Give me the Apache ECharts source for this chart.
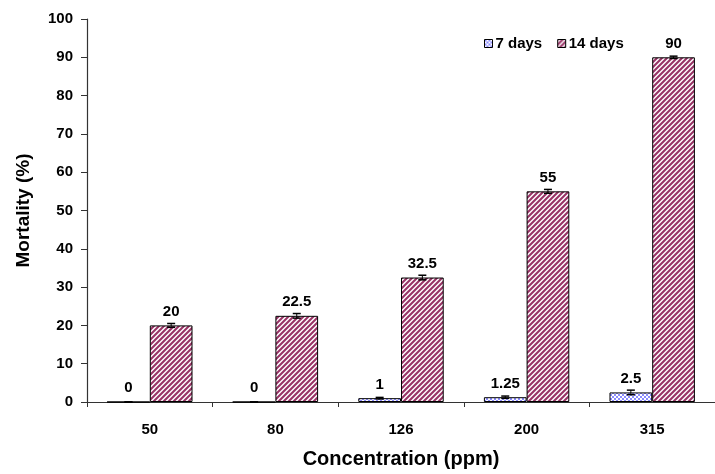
<!DOCTYPE html>
<html><head><meta charset="utf-8">
<script src="https://cdn.jsdelivr.net/npm/echarts@6/dist/echarts.min.js"></script>
<style>html,body{margin:0;padding:0;background:#fff}#c{width:715px;height:474px}</style>
</head><body><div id="c"></div>
<script>
var categories = ['50', '80', '126', '200', '315'];
var days7 = [0, 0, 1, 1.25, 2.5];
var days14 = [20, 22.5, 32.5, 55, 90];
var err7 = [0, 0, 0.2, 0.3, 0.6];
var err14 = [0.5, 0.6, 0.6, 0.5, 0.3];
var yTicks = [0, 10, 20, 30, 40, 50, 60, 70, 80, 90, 100];

function stripePattern() {
  var c = document.createElement('canvas');
  c.width = 5; c.height = 5;
  var g = c.getContext('2d');
  g.fillStyle = '#ffffff'; g.fillRect(0, 0, 5, 5);
  g.strokeStyle = '#993366'; g.lineWidth = 2.1;
  g.beginPath();
  g.moveTo(-1, 6); g.lineTo(6, -1);
  g.moveTo(-1, 1); g.lineTo(1, -1);
  g.moveTo(4, 6); g.lineTo(6, 4);
  g.stroke();
  return c;
}
function checkPattern() {
  var c = document.createElement('canvas');
  c.width = 4; c.height = 4;
  var g = c.getContext('2d');
  g.fillStyle = '#ffffff'; g.fillRect(0, 0, 4, 4);
  g.fillStyle = '#8c8cff';
  g.fillRect(0, 0, 2, 2); g.fillRect(2, 2, 2, 2);
  return c;
}
var pat14 = {image: stripePattern(), repeat: 'repeat'};
var pat7 = {image: checkPattern(), repeat: 'repeat'};

var GAP = 0.32;
function errRender(values, errs, side) {
  return function (params, api) {
    var i = api.value(0);
    var v = values[i], e = errs[i];
    var band = api.size([1, 0])[0];
    var bw = band * (1 - GAP) / 2;
    var c = api.coord([i, v]);
    var x = c[0] + side * bw / 2;
    var top = api.coord([i, v + e])[1];
    var bot = api.coord([i, Math.max(0, v - e)])[1];
    var cap = 4;
    return {
      type: 'group',
      children: [
        {type: 'line', shape: {x1: x, y1: top, x2: x, y2: bot}, style: {stroke: '#000', lineWidth: 1}},
        {type: 'line', shape: {x1: x - cap, y1: top, x2: x + cap, y2: top}, style: {stroke: '#000', lineWidth: 1.5}},
        {type: 'line', shape: {x1: x - cap, y1: bot, x2: x + cap, y2: bot}, style: {stroke: '#000', lineWidth: 1.5}}
      ]
    };
  };
}

var FONT = 'Liberation Sans, Arial, Helvetica';
var labelStyle = {show: true, position: 'top', distance: 6, fontFamily: FONT, fontWeight: 'bold', fontSize: 15, color: '#000'};

var chart = echarts.init(document.getElementById('c'), null, {renderer: 'canvas'});
chart.setOption({
  animation: false,
  backgroundColor: '#fff',
  grid: {left: 87, right: -4, top: 19, bottom: 68, containLabel: false},
  legend: {
    left: 479, top: 31, itemWidth: 8, itemHeight: 8, itemGap: 15,
    textStyle: {fontFamily: FONT, fontWeight: 'bold', fontSize: 15, color: '#000', padding: [0, 0, 0, -2]},
    data: [
      {name: '7 days', icon: 'rect', itemStyle: {color: pat7, borderColor: '#000', borderWidth: 1}},
      {name: '14 days', icon: 'rect', itemStyle: {color: pat14, borderColor: '#000', borderWidth: 1}}
    ]
  },
  xAxis: {
    type: 'category', data: categories,
    name: 'Concentration (ppm)', nameLocation: 'middle', nameGap: 47,
    nameTextStyle: {fontFamily: FONT, fontWeight: 'bold', fontSize: 20, color: '#000'},
    axisLine: {lineStyle: {color: '#333', width: 1.2}},
    axisTick: {show: true, alignWithLabel: false, length: 5, lineStyle: {color: '#333'}},
    axisLabel: {margin: 20, fontFamily: FONT, fontWeight: 'bold', fontSize: 15, color: '#000'}
  },
  yAxis: {
    type: 'value', min: 0, max: 100, interval: 10,
    name: 'Mortality (%)', nameLocation: 'middle', nameGap: 54,
    nameTextStyle: {fontFamily: FONT, fontWeight: 'bold', fontSize: 19, color: '#000'},
    axisLine: {show: true, lineStyle: {color: '#333', width: 1.2}},
    axisTick: {show: true, inside: false, length: 6, lineStyle: {color: '#333'}},
    splitLine: {show: false},
    axisLabel: {margin: 14, fontFamily: FONT, fontWeight: 'bold', fontSize: 15, color: '#000',
      formatter: function (v) { return yTicks.indexOf(v) >= 0 ? String(v) : ''; }}
  },
  series: [
    {name: '7 days', type: 'bar', data: days7, barGap: '0%', barCategoryGap: (GAP * 100) + '%',
     itemStyle: {color: pat7, borderColor: '#000', borderWidth: 1}, label: labelStyle},
    {name: '14 days', type: 'bar', data: days14, barGap: '0%', barCategoryGap: (GAP * 100) + '%',
     itemStyle: {color: pat14, borderColor: '#000', borderWidth: 1}, label: labelStyle},
    {type: 'custom', name: 'err7', data: days7.map(function (v, i) { return [i, v]; }),
     renderItem: errRender(days7, err7, -1), z: 5, silent: true},
    {type: 'custom', name: 'err14', data: days14.map(function (v, i) { return [i, v]; }),
     renderItem: errRender(days14, err14, 1), z: 5, silent: true}
  ]
});
</script></body></html>
